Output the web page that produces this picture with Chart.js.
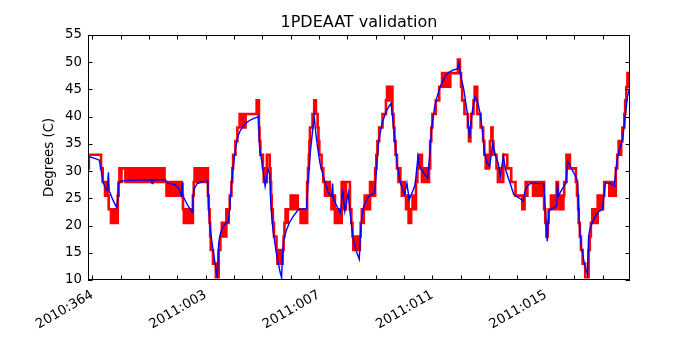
<!DOCTYPE html>
<html>
<head>
<meta charset="utf-8">
<title>1PDEAAT validation</title>
<script src="https://cdn.jsdelivr.net/npm/chart.js@4.4.1/dist/chart.umd.min.js"></script>
<style>
  html, body { margin: 0; padding: 0; background: #fff; }
  #wrap { width: 700px; height: 350px; }
</style>
</head>
<body>
<div id="wrap"><canvas id="chart" width="700" height="350"></canvas></div>
<script>
// days since 2010:364 00:00
const xMin = -0.15;
const xMax = 18.97;
const xTickDays = [0, 1, 2, 3, 4, 5, 6, 7, 8, 9, 10, 11, 12, 13, 14, 15, 16, 17, 18];
const xLabelDays = [0, 4, 8, 12, 16];
const xLabelText = ["2010:364", "2011:003", "2011:007", "2011:011", "2011:015"];
const yTicks = [10, 15, 20, 25, 30, 35, 40, 45, 50, 55];

// telemetry, quantized (red)
const telemetry = [
  [-0.15,30.5],[-0.12,33],[0.31,30.5],[0.37,28],[0.45,25.5],[0.50,28],[0.54,25.5],[0.58,23],
  [0.66,20.5],[0.72,23],[0.76,20.5],[0.82,23],[0.86,20.5],[0.90,25.5],[0.93,28],[0.96,30.5],
  [1.00,28],[1.03,30.5],[1.17,28],[1.22,30.5],[1.29,28],[1.36,30.5],[1.43,28],[1.50,30.5],
  [1.57,28],[1.64,30.5],[1.71,28],[1.78,30.5],[1.85,28],[1.92,30.5],[1.99,28],[2.06,30.5],
  [2.13,28],[2.20,30.5],[2.27,28],[2.34,30.5],[2.41,28],[2.48,30.5],[2.55,28],[2.62,25.5],
  [2.69,28],[2.76,25.5],[2.83,28],[2.90,25.5],[2.97,28],[3.04,25.5],[3.11,28],[3.16,25.5],
  [3.20,23],[3.23,20.5],[3.30,23],[3.37,20.5],[3.44,23],[3.51,20.5],[3.55,25.5],[3.58,28],
  [3.61,30.5],[3.68,28],[3.75,30.5],[3.82,28],[3.89,30.5],[3.96,28],[4.03,30.5],[4.08,25.5],
  [4.11,23],[4.14,20.5],[4.16,18],[4.18,15.5],[4.26,13],[4.36,10.5],[4.46,15.5],[4.52,18],
  [4.57,20.5],[4.62,18],[4.67,20.5],[4.71,18],[4.73,23],[4.77,20.5],[4.81,23],[4.85,25.5],
  [4.91,28],[4.94,30.5],[4.97,33],[5.05,35.5],[5.12,38],[5.20,40.5],[5.26,38],[5.31,40.5],
  [5.36,38],[5.41,40.5],[5.80,43],[5.88,38],[5.90,35.5],[5.93,33],[6.02,30.5],[6.05,28],
  [6.08,30.5],[6.11,28],[6.16,33],[6.26,30.5],[6.29,28],[6.31,25.5],[6.33,23],[6.37,20.5],
  [6.41,18],[6.50,15.5],[6.53,13],[6.58,15.5],[6.62,13],[6.67,15.5],[6.70,13],[6.72,15.5],
  [6.75,18],[6.78,20.5],[6.82,23],[6.86,20.5],[6.90,23],[7.00,25.5],[7.05,23],[7.10,25.5],
  [7.15,23],[7.20,25.5],[7.25,23],[7.35,20.5],[7.40,23],[7.45,20.5],[7.50,23],[7.54,20.5],
  [7.58,28],[7.61,30.5],[7.64,33],[7.66,35.5],[7.68,38],[7.77,40.5],[7.83,43],[7.89,40.5],
  [7.95,38],[7.98,35.5],[8.01,33],[8.09,30.5],[8.15,28],[8.21,25.5],[8.26,28],[8.31,25.5],
  [8.35,28],[8.38,25.5],[8.44,23],[8.50,25.5],[8.56,20.5],[8.62,23],[8.68,20.5],[8.74,23],
  [8.78,20.5],[8.80,28],[8.88,23],[8.95,28],[9.09,23],[9.14,20.5],[9.18,18],[9.21,15.5],
  [9.27,18],[9.32,15.5],[9.37,18],[9.40,15.5],[9.44,18],[9.47,20.5],[9.51,23],[9.55,20.5],
  [9.58,23],[9.61,25.5],[9.66,23],[9.71,25.5],[9.75,23],[9.80,28],[9.85,25.5],[9.90,28],
  [9.94,25.5],[9.98,30.5],[10.02,33],[10.06,35.5],[10.12,38],[10.24,40.5],[10.36,43],[10.40,45.5],
  [10.45,43],[10.50,45.5],[10.55,43],[10.57,45.5],[10.59,40.5],[10.63,38],[10.66,35.5],[10.70,33],
  [10.75,30.5],[10.80,28],[10.84,30.5],[10.87,28],[10.92,25.5],[10.97,28],[11.02,25.5],[11.07,23],
  [11.11,25.5],[11.16,20.5],[11.25,23],[11.30,25.5],[11.36,23],[11.42,28],[11.47,30.5],[11.51,33],
  [11.56,30.5],[11.60,33],[11.63,28],[11.68,30.5],[11.73,28],[11.78,30.5],[11.83,28],[11.88,30.5],
  [11.92,35.5],[11.96,38],[12.00,40.5],[12.12,43],[12.24,45.5],[12.34,48],[12.39,45.5],[12.44,48],
  [12.49,45.5],[12.54,48],[12.59,45.5],[12.63,48],[12.90,50.5],[12.97,48],[13.01,45.5],[13.05,43],
  [13.13,40.5],[13.25,38],[13.29,35.5],[13.34,38],[13.37,40.5],[13.45,43],[13.49,45.5],[13.53,43],
  [13.56,45.5],[13.58,40.5],[13.70,38],[13.79,35.5],[13.83,33],[13.88,30.5],[13.92,33],[13.96,30.5],
  [14.00,33],[14.03,35.5],[14.08,38],[14.12,35.5],[14.15,33],[14.26,30.5],[14.31,28],[14.36,30.5],
  [14.40,28],[14.50,33],[14.64,30.5],[14.78,28],[14.93,25.5],[15.17,23],[15.25,25.5],[15.29,28],
  [15.33,25.5],[15.35,28],[15.55,25.5],[15.60,28],[15.65,25.5],[15.70,28],[15.75,25.5],[15.80,28],
  [15.85,25.5],[15.90,28],[15.94,23],[15.98,20.5],[16.02,18],[16.07,20.5],[16.10,23],[16.18,25.5],
  [16.23,23],[16.28,25.5],[16.33,23],[16.38,28],[16.43,25.5],[16.48,23],[16.53,25.5],[16.58,23],
  [16.62,25.5],[16.65,28],[16.73,33],[16.77,30.5],[16.80,33],[16.85,30.5],[17.06,28],[17.10,25.5],
  [17.14,23],[17.16,20.5],[17.20,18],[17.24,15.5],[17.30,13],[17.39,10.5],[17.51,15.5],[17.55,18],
  [17.59,20.5],[17.64,23],[17.69,20.5],[17.74,23],[17.79,20.5],[17.83,25.5],[17.88,23],[17.93,25.5],
  [17.98,23],[18.02,25.5],[18.06,28],[18.24,25.5],[18.29,28],[18.34,25.5],[18.39,28],[18.44,25.5],
  [18.47,30.5],[18.52,33],[18.57,35.5],[18.63,33],[18.66,35.5],[18.70,38],[18.77,40.5],[18.80,43],
  [18.84,45.5],[18.88,48],[18.91,45.5],[18.94,48],[18.97,48]
];

// thermal model prediction (blue)
const model = [
  [-0.15,32.7],[0.07,32.4],[0.25,32.0],[0.31,30.3],[0.37,28.1],[0.42,27.5],[0.48,26.7],[0.53,26.5],
  [0.57,29.8],[0.60,26.2],[0.63,26.0],[0.72,24.8],[0.86,23.3],[0.90,24.8],[0.92,27.7],[0.97,27.95],
  [1.01,28.1],[1.15,28.25],[1.31,28.3],[2.07,28.4],[2.11,27.7],[2.14,28.4],[2.58,28.4],[2.66,27.8],
  [2.93,27.5],[3.05,26.8],[3.14,25.5],[3.17,27.9],[3.20,25.4],[3.38,23.6],[3.52,22.5],[3.55,25.0],
  [3.58,26.4],[3.62,27.0],[3.70,27.7],[3.85,28.0],[4.06,28.2],[4.08,26.5],[4.10,24.2],[4.14,20.5],
  [4.20,17.8],[4.26,15.6],[4.34,12.8],[4.41,10.4],[4.46,16.8],[4.50,18.0],[4.53,18.7],[4.60,19.6],
  [4.67,20.2],[4.81,20.8],[4.88,25.4],[4.96,30.3],[5.05,34.0],[5.10,35.4],[5.14,36.4],[5.22,37.4],
  [5.32,38.2],[5.44,38.9],[5.55,39.3],[5.70,39.7],[5.82,39.9],[5.86,40.1],[5.90,34.6],[6.02,30.3],
  [6.10,27.2],[6.20,30.3],[6.26,29.5],[6.29,25.0],[6.33,21.7],[6.38,19.0],[6.44,16.8],[6.50,14.8],
  [6.56,13.2],[6.62,11.6],[6.68,10.4],[6.71,14.5],[6.74,16.8],[6.80,18.3],[6.86,19.3],[6.97,20.7],
  [7.09,21.7],[7.27,22.95],[7.56,23.1],[7.62,28.4],[7.70,33.9],[7.83,40.05],[7.91,35.8],[8.03,31.5],
  [8.15,29.1],[8.33,26.0],[8.44,25.4],[8.48,27.7],[8.50,25.1],[8.62,23.6],[8.76,22.3],[8.83,26.6],
  [8.91,22.6],[9.03,26.0],[9.09,22.6],[9.15,19.8],[9.21,17.45],[9.30,15.5],[9.42,13.8],[9.46,18.5],
  [9.50,21.1],[9.54,22.6],[9.58,23.6],[9.63,24.2],[9.75,25.4],[9.96,26.0],[10.01,29.1],[10.10,35.2],
  [10.22,38.8],[10.40,41.3],[10.54,42.5],[10.63,38.2],[10.75,31.5],[10.87,27.8],[11.02,25.7],[11.10,27.8],
  [11.18,24.8],[11.28,26.0],[11.39,27.5],[11.49,32.7],[11.54,30.9],[11.69,29.7],[11.83,28.75],[11.90,32.7],
  [11.98,38.2],[12.08,41.9],[12.15,43.4],[12.22,44.6],[12.30,45.8],[12.39,46.8],[12.48,47.6],[12.57,48.1],
  [12.70,48.5],[12.83,48.7],[12.88,48.7],[12.93,49.8],[12.99,47.7],[13.11,44.9],[13.23,40.7],[13.31,36.1],
  [13.40,40.7],[13.50,43.7],[13.58,43.1],[13.68,40.7],[13.76,37.6],[13.84,33.3],[13.93,31.5],[14.02,30.9],
  [14.13,35.2],[14.23,32.7],[14.32,31.5],[14.40,29.1],[14.50,32.7],[14.58,30.3],[14.70,28.4],[14.87,25.7],
  [15.05,25.1],[15.20,24.5],[15.25,26.0],[15.30,26.8],[15.34,27.2],[15.42,27.6],[15.52,27.8],[15.93,27.7],
  [15.99,22.3],[16.05,17.1],[16.08,21.0],[16.10,22.6],[16.20,23.1],[16.30,23.3],[16.39,23.6],[16.41,27.8],
  [16.45,25.4],[16.53,26.3],[16.71,27.8],[16.77,31.8],[16.89,30.6],[17.08,28.75],[17.12,28.1],[17.15,24.5],
  [17.18,20.5],[17.22,17.8],[17.27,15.6],[17.36,13.0],[17.47,11.0],[17.51,18.1],[17.55,19.2],[17.59,19.9],
  [17.71,21.4],[17.80,22.1],[17.88,22.6],[18.00,22.95],[18.10,27.8],[18.26,27.8],[18.41,27.2],[18.50,31.5],
  [18.59,33.9],[18.71,35.8],[18.80,40.05],[18.88,43.7],[18.97,45.5]
];

const tickFont = { family: "'DejaVu Sans', sans-serif", size: 13.3 };

// matplotlib-style frame with inward ticks on all four sides
const frameTicks = {
  id: "frameTicks",
  afterDraw(chart) {
    const ctx = chart.ctx;
    const a = chart.chartArea;
    const xs = chart.scales.x;
    const ys = chart.scales.y;
    const len = 4.5;
    ctx.save();
    ctx.strokeStyle = "#000";
    ctx.lineWidth = 1;
    ctx.beginPath();
    xTickDays.forEach(d => {
      const px = Math.round(xs.getPixelForValue(d)) + 0.5;
      ctx.moveTo(px, a.bottom); ctx.lineTo(px, a.bottom - len);
      ctx.moveTo(px, a.top); ctx.lineTo(px, a.top + len);
    });
    yTicks.forEach(v => {
      const py = Math.round(ys.getPixelForValue(v)) + 0.5;
      ctx.moveTo(a.left, py); ctx.lineTo(a.left + len, py);
      ctx.moveTo(a.right, py); ctx.lineTo(a.right - len, py);
    });
    ctx.stroke();
    ctx.strokeRect(a.left + 0.5, a.top + 0.5, a.right - a.left - 1, a.bottom - a.top - 1);
    ctx.restore();
  }
};

new Chart(document.getElementById("chart"), {
  type: "line",
  data: {
    datasets: [
      {
        label: "model",
        data: model.map(p => ({ x: p[0], y: p[1] })),
        borderColor: "#0000ff",
        borderWidth: 1.4,
        pointRadius: 0,
        tension: 0,
        order: 0,
        clip: 0
      },
      {
        label: "telemetry",
        data: telemetry.map(p => ({ x: p[0], y: p[1] })),
        borderColor: "#ff0000",
        borderWidth: 2.6,
        pointRadius: 0,
        stepped: true,
        order: 1,
        clip: 0
      }
    ]
  },
  options: {
    responsive: false,
    animation: false,
    devicePixelRatio: 1,
    layout: { padding: { left: 0, right: 70, top: 0, bottom: 0 } },
    plugins: {
      legend: { display: false },
      tooltip: { enabled: false },
      title: {
        display: true,
        fullSize: false,
        text: "1PDEAAT validation",
        color: "#000",
        font: { family: "'DejaVu Sans', sans-serif", size: 16, weight: "normal", lineHeight: 1.2 },
        padding: { top: 13, bottom: 2.8 }
      }
    },
    scales: {
      x: {
        type: "linear",
        min: xMin,
        max: xMax,
        afterBuildTicks: scale => { scale.ticks = xTickDays.map(v => ({ value: v })); },
        afterFit: scale => { scale.height = 70; },
        grid: { display: false, drawTicks: false },
        border: { display: false },
        ticks: {
          autoSkip: false,
          minRotation: 30,
          maxRotation: 30,
          padding: 7,
          color: "#000",
          font: tickFont,
          callback: v => {
            const i = xLabelDays.indexOf(v);
            return i >= 0 ? xLabelText[i] : "";
          }
        }
      },
      y: {
        min: 10,
        max: 55,
        afterBuildTicks: scale => { scale.ticks = yTicks.map(v => ({ value: v })); },
        afterFit: scale => { scale.width = 88; },
        grid: { display: false, drawTicks: false },
        border: { display: false },
        ticks: { padding: 6, color: "#000", font: tickFont },
        title: {
          display: true,
          text: "Degrees (C)",
          color: "#000",
          font: { family: "'DejaVu Sans', sans-serif", size: 13.3 },
          padding: { top: 42, bottom: 0 }
        }
      }
    }
  },
  plugins: [frameTicks]
});
</script>
</body>
</html>
